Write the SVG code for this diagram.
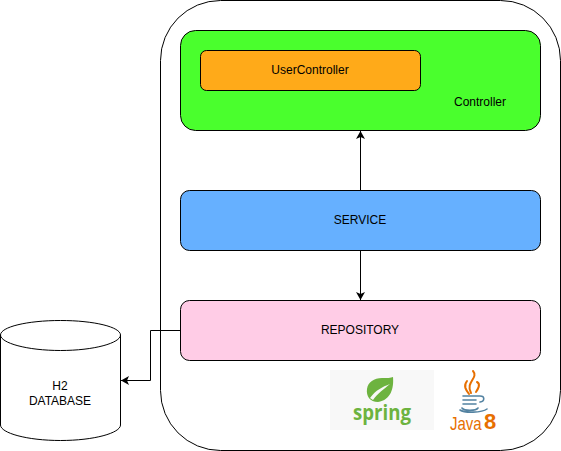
<svg xmlns="http://www.w3.org/2000/svg" width="561" height="451" viewBox="0 0 561 451">
<style>
.b{stroke:#000;stroke-width:1}
.t{font-family:"Liberation Sans",Arial,sans-serif;font-size:12px;fill:#000;text-anchor:middle}
.c{fill:none;stroke:#000;stroke-width:1}
.j{fill:none;stroke-linecap:round}
</style>
<defs>
<marker id="a" markerUnits="userSpaceOnUse" markerWidth="9" markerHeight="10" refX="8" refY="4.5" orient="auto"><path d="M0 0L8 4.500L0 9L2 4.500Z" fill="#000"/></marker>
</defs>
<rect width="561" height="451" fill="#fff"/>
<g id="app"><rect class="b" x="160.500" y="0.500" width="400" height="450" rx="60" fill="#fff"/></g>
<g id="controller"><rect class="b" x="180.500" y="30.500" width="360" height="100" rx="15" fill="#4aff2d"/><text class="t" x="480" y="106">Controller</text></g>
<g id="usercontroller"><rect class="b" x="200.500" y="50.500" width="220" height="40" rx="6" fill="#ffaa19"/><text class="t" x="310" y="74">UserController</text></g>
<g id="service"><rect class="b" x="180.500" y="190.500" width="360" height="60" rx="9" fill="#66b0ff"/><text class="t" x="360" y="224">SERVICE</text></g>
<g id="repository"><rect class="b" x="180.500" y="300.500" width="360" height="60" rx="9" fill="#ffcce6"/><text class="t" x="360" y="334">REPOSITORY</text></g>
<g id="database"><path class="b" d="M0.500 335C0.500 327 27 320.500 60.500 320.500C94 320.500 120.500 327 120.500 335V425C120.500 433 94 440.500 60.500 440.500C27 440.500 0.500 433 0.500 425Z" fill="#fff"/><path class="c" d="M0.500 335C0.500 343 27 350.500 60.500 350.500C94 350.500 120.500 343 120.500 335"/><text class="t" x="60" y="390">H2</text><text class="t" x="60" y="405">DATABASE</text></g>
<g id="connectors">
<path class="c" d="M360.500 190V131" marker-end="url(#a)"/>
<path class="c" d="M360.500 250V300" marker-end="url(#a)"/>
<path class="c" d="M180 330.500H150.500V380.500H121" marker-end="url(#a)"/>
</g>
<g id="spring-logo">
<rect x="330" y="370" width="104" height="60" fill="#f8f8f8"/>
<path d="M393 377C394 388 391 400 378 402C370 402 366 396 367 389C368 382 374 378 382 378C387 378 391 378 393 377Z" fill="#6db33f"/>
<path d="M370 398C376 390 382 387 390 384C384 389 378 393 373 400Z" fill="#f8f8f8"/>
<text x="382" y="420" font-family="Open Sans,Liberation Sans,sans-serif" font-size="22" font-weight="700" fill="#6db33f" text-anchor="middle" textLength="58" lengthAdjust="spacingAndGlyphs">spring</text>
</g>
<g id="java-logo">
<path class="j" d="M473 371C479 378 465 382 471 393M467 381C463 386 466 390 469 394M477 382C481 384 478 389 476 392" stroke="#e76f00" stroke-width="2"/>
<path class="j" d="M463 396H480C485 396 485 401 480 402M463 400H476M463 404H476M462 408C464 411 476 411 478 408M460 410C464 413 482 413 487 409" stroke="#5382a1" stroke-width="1.600"/>
<text transform="translate(450 430) scale(1 1.25)" font-family="Liberation Sans,sans-serif" font-size="15" fill="#e76f00">Java</text>
<text x="484" y="429" font-family="Liberation Sans,sans-serif" font-size="22" font-weight="700" fill="#e76f00">8</text>
</g>
</svg>
